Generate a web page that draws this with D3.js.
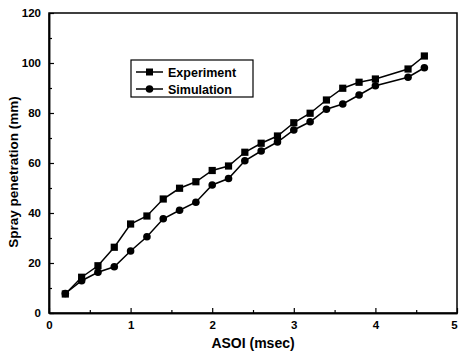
<!DOCTYPE html>
<html>
<head>
<meta charset="utf-8">
<script src="https://cdn.jsdelivr.net/npm/d3@7"></script>
<style>
  body { margin: 0; background: #fff; }
  text { font-family: "Liberation Sans", Arial, sans-serif; font-weight: bold; fill: #000; }
</style>
</head>
<body>
<svg width="459" height="354"></svg>
<script>
// ASOI values (msec)
const asoi = [0.2, 0.4, 0.6, 0.8, 1.0, 1.2, 1.4, 1.6, 1.8, 2.0, 2.2, 2.4, 2.6,
              2.8, 3.0, 3.2, 3.4, 3.6, 3.8, 4.0, 4.4, 4.6];
// spray penetration (mm)
const experiment = [7.6, 14.3, 18.9, 26.3, 35.6, 38.8, 45.6, 49.9, 52.5, 57.0, 58.8,
                    64.3, 67.9, 70.8, 76.1, 79.9, 85.2, 89.9, 92.3, 93.6, 97.6, 102.8];
const simulation = [7.8, 12.9, 16.3, 18.5, 24.8, 30.5, 37.7, 41.1, 44.3, 51.2, 53.8,
                    60.9, 64.8, 68.4, 73.2, 76.5, 81.5, 83.6, 87.2, 90.9, 94.3, 98.1];
const xTicks = [0, 1, 2, 3, 4, 5];
const yTicks = [0, 20, 40, 60, 80, 100, 120];

const svg = d3.select('svg');
const margin = { top: 13, right: 2, bottom: 41, left: 49 };
const W = 459, H = 354;

const x = d3.scaleLinear().domain([0, 5]).range([margin.left, W - margin.right]);
const y = d3.scaleLinear().domain([0, 120]).range([H - margin.bottom, margin.top]);

// frame
svg.append('rect')
    .attr('x', x(0)).attr('y', y(120))
    .attr('width', x(5) - x(0)).attr('height', y(0) - y(120))
    .attr('fill', 'none').attr('stroke', '#000').attr('stroke-width', 1.5);

// axes with inward ticks
const xAxis = svg.append('g')
    .attr('transform', `translate(0,${y(0)})`)
    .call(d3.axisBottom(x).tickValues(xTicks).tickFormat(d3.format('d'))
        .tickSize(-5).tickSizeOuter(0).tickPadding(8));
const xMinor = svg.append('g')
    .attr('transform', `translate(0,${y(0)})`)
    .call(d3.axisBottom(x).tickValues(d3.range(0.5, 5, 1)).tickSize(-3).tickFormat('').tickSizeOuter(0));
const yAxis = svg.append('g')
    .attr('transform', `translate(${x(0)},0)`)
    .call(d3.axisLeft(y).tickValues(yTicks).tickFormat(d3.format('d'))
        .tickSize(-5).tickSizeOuter(0).tickPadding(8));
const yMinor = svg.append('g')
    .attr('transform', `translate(${x(0)},0)`)
    .call(d3.axisLeft(y).tickValues(d3.range(10, 120, 20)).tickSize(-3).tickFormat('').tickSizeOuter(0));

[xAxis, xMinor, yAxis, yMinor].forEach(g => {
    g.select('.domain').attr('stroke-width', 1.5);
    g.selectAll('.tick line').attr('stroke-width', 1.2);
    g.selectAll('text')
        .style('font-family', '"Liberation Sans", Arial, sans-serif')
        .style('font-weight', 'bold')
        .style('font-size', '11.5px');
});
// last x label sits at the window edge, nudge it inside
xAxis.selectAll('.tick text').filter(d => d === 5).attr('dx', -3);

// series lines
const line = d3.line().x(d => x(d[0])).y(d => y(d[1]));
const expData = asoi.map((a, i) => [a, experiment[i]]);
const simData = asoi.map((a, i) => [a, simulation[i]]);

svg.append('path').datum(simData)
    .attr('d', line).attr('fill', 'none').attr('stroke', '#000').attr('stroke-width', 1.5);
svg.append('path').datum(expData)
    .attr('d', line).attr('fill', 'none').attr('stroke', '#000').attr('stroke-width', 1.5);

svg.selectAll('.sim').data(simData).enter().append('circle')
    .attr('class', 'sim')
    .attr('cx', d => x(d[0])).attr('cy', d => y(d[1])).attr('r', 3.8)
    .attr('fill', '#000');
svg.selectAll('.exp').data(expData).enter().append('rect')
    .attr('class', 'exp')
    .attr('x', d => x(d[0]) - 3.6).attr('y', d => y(d[1]) - 3.6)
    .attr('width', 7.2).attr('height', 7.2)
    .attr('fill', '#000');

// legend
const lg = svg.append('g');
lg.append('rect')
    .attr('x', 131).attr('y', 60).attr('width', 122).attr('height', 37)
    .attr('fill', '#fff').attr('stroke', '#000').attr('stroke-width', 1.2);
[['Experiment', 'sq', 72], ['Simulation', 'ci', 89]].forEach(([name, m, yy]) => {
    lg.append('line').attr('x1', 136).attr('x2', 163).attr('y1', yy).attr('y2', yy)
        .attr('stroke', '#000').attr('stroke-width', 1.5);
    if (m === 'sq') {
        lg.append('rect').attr('x', 146).attr('y', yy - 3.5).attr('width', 7).attr('height', 7).attr('fill', '#000');
    } else {
        lg.append('circle').attr('cx', 149.5).attr('cy', yy).attr('r', 3.8).attr('fill', '#000');
    }
    lg.append('text').attr('x', 168).attr('y', yy + 4.5)
        .style('font-size', '12.5px').text(name);
});

// axis titles
svg.append('text')
    .attr('x', 253).attr('y', 348)
    .attr('text-anchor', 'middle')
    .style('font-size', '14px')
    .text('ASOI (msec)');
svg.append('text')
    .attr('transform', `translate(18,172) rotate(-90)`)
    .attr('text-anchor', 'middle')
    .style('font-size', '13.5px')
    .text('Spray penetration (mm)');
</script>
</body>
</html>
